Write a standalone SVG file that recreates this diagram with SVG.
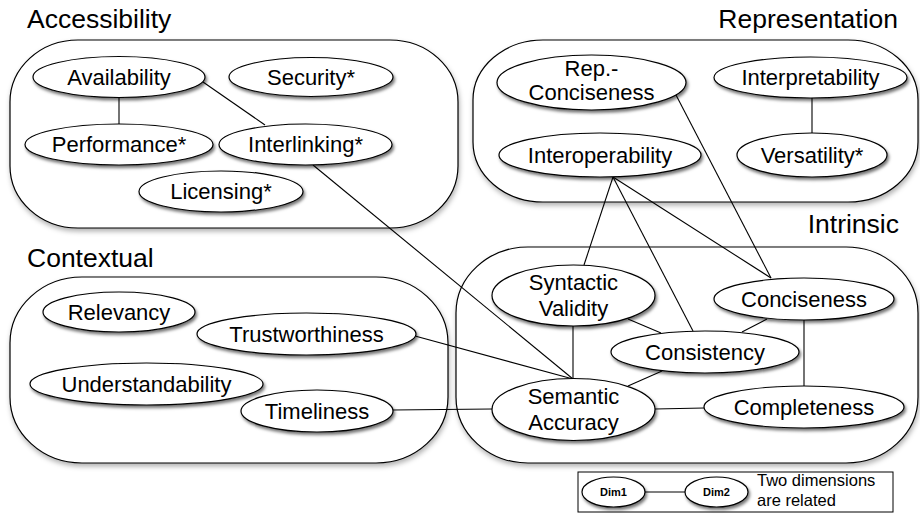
<svg xmlns="http://www.w3.org/2000/svg" width="920" height="523" viewBox="0 0 920 523">
<defs>
<filter id="sh" x="-20%" y="-20%" width="150%" height="160%">
<feDropShadow dx="1.5" dy="2.5" stdDeviation="1.6" flood-color="#000" flood-opacity="0.55"/>
</filter>
<filter id="shc" x="-10%" y="-10%" width="120%" height="125%">
<feDropShadow dx="1" dy="3" stdDeviation="2.5" flood-color="#000" flood-opacity="0.3"/>
</filter>
</defs>
<style>
.box{fill:#fff;stroke:#000;stroke-width:1.2}
.n{fill:#fff;stroke:#000;stroke-width:1.2}
.t{font-family:"Liberation Sans",Arial,sans-serif;font-size:22px;fill:#000;text-anchor:middle}
.h{font-family:"Liberation Sans",Arial,sans-serif;font-size:26.5px;fill:#000}
.hr{text-anchor:end}
.e{stroke:#000;stroke-width:1.1;fill:none}
.lg{font-family:"Liberation Sans",Arial,sans-serif;font-size:16.5px;fill:#000}
.d{font-family:"Liberation Sans",Arial,sans-serif;font-size:11px;font-weight:bold;fill:#000;text-anchor:middle}
</style>
<rect width="920" height="523" fill="#fff"/>

<g id="groups">
<g id="accessibility">
<rect class="box" x="10" y="40" width="448" height="188" rx="68" ry="62" filter="url(#shc)"/>
<text class="h" x="27" y="28">Accessibility</text>
</g>
<g id="representation">
<rect class="box" x="473" y="40" width="445" height="162" rx="70" ry="60" filter="url(#shc)"/>
<text class="h hr" x="898" y="28">Representation</text>
</g>
<g id="contextual">
<rect class="box" x="10" y="277" width="438" height="186" rx="72" ry="66" filter="url(#shc)"/>
<text class="h" x="27" y="267">Contextual</text>
</g>
<g id="intrinsic">
<rect class="box" x="456" y="247" width="462" height="216" rx="72" ry="66" filter="url(#shc)"/>
<text class="h hr" x="899" y="233">Intrinsic</text>
</g>
</g>

<g id="connectors">
<line class="e" x1="119" y1="97" x2="119" y2="124"/>
<line class="e" x1="203" y1="82" x2="265" y2="125"/>
<line class="e" x1="313" y1="165" x2="573" y2="379"/>
<line class="e" x1="812" y1="97" x2="812" y2="133"/>
<line class="e" x1="676" y1="95" x2="771" y2="278"/>
<line class="e" x1="613" y1="177" x2="584" y2="265"/>
<line class="e" x1="613" y1="177" x2="693" y2="331"/>
<line class="e" x1="613" y1="177" x2="771" y2="278"/>
<line class="e" x1="415" y1="336" x2="573" y2="379"/>
<line class="e" x1="393" y1="410" x2="492" y2="409"/>
<line class="e" x1="573" y1="325" x2="573" y2="379"/>
<line class="e" x1="628" y1="319" x2="661" y2="333"/>
<line class="e" x1="767" y1="319" x2="742" y2="332"/>
<line class="e" x1="804" y1="320" x2="804" y2="386"/>
<line class="e" x1="662" y1="371" x2="628" y2="386"/>
<line class="e" x1="655" y1="409" x2="704" y2="408"/>
</g>

<g id="availability"><ellipse class="n" cx="119" cy="77" rx="86" ry="20.5" filter="url(#sh)"/><text class="t" x="119" y="84.5">Availability</text></g>
<g id="security"><ellipse class="n" cx="311" cy="77" rx="82" ry="19.5" filter="url(#sh)"/><text class="t" x="311" y="84.5">Security*</text></g>
<g id="performance"><ellipse class="n" cx="119" cy="144.5" rx="94" ry="20.5" filter="url(#sh)"/><text class="t" x="119" y="152">Performance*</text></g>
<g id="interlinking"><ellipse class="n" cx="305.5" cy="144.5" rx="86.5" ry="20.5" filter="url(#sh)"/><text class="t" x="305.5" y="152">Interlinking*</text></g>
<g id="licensing"><ellipse class="n" cx="221" cy="191.5" rx="82" ry="20.5" filter="url(#sh)"/><text class="t" x="221" y="199">Licensing*</text></g>

<g id="rep-conciseness"><ellipse class="n" cx="591.5" cy="82.5" rx="94.5" ry="27.5" filter="url(#sh)"/><text class="t" x="591.5" y="76">Rep.-</text><text class="t" x="591.5" y="100">Conciseness</text></g>
<g id="interpretability"><ellipse class="n" cx="810.5" cy="77.5" rx="96.5" ry="20.5" filter="url(#sh)"/><text class="t" x="810.5" y="85">Interpretability</text></g>
<g id="interoperability"><ellipse class="n" cx="600" cy="155" rx="101" ry="22" filter="url(#sh)"/><text class="t" x="600" y="162.5">Interoperability</text></g>
<g id="versatility"><ellipse class="n" cx="812" cy="155" rx="75" ry="22" filter="url(#sh)"/><text class="t" x="812" y="162.5">Versatility*</text></g>

<g id="relevancy"><ellipse class="n" cx="119" cy="312" rx="76" ry="20" filter="url(#sh)"/><text class="t" x="119" y="319.5">Relevancy</text></g>
<g id="trustworthiness"><ellipse class="n" cx="306.5" cy="334" rx="109.5" ry="21" filter="url(#sh)"/><text class="t" x="306.5" y="341.5">Trustworthiness</text></g>
<g id="understandability"><ellipse class="n" cx="146.5" cy="384" rx="116.5" ry="21" filter="url(#sh)"/><text class="t" x="146.5" y="391.5">Understandability</text></g>
<g id="timeliness"><ellipse class="n" cx="317" cy="411" rx="76" ry="21" filter="url(#sh)"/><text class="t" x="317" y="418.5">Timeliness</text></g>

<g id="syntactic-validity"><ellipse class="n" cx="573.5" cy="295.5" rx="81.5" ry="30.5" filter="url(#sh)"/><text class="t" x="573.5" y="290">Syntactic</text><text class="t" x="573.5" y="316">Validity</text></g>
<g id="conciseness"><ellipse class="n" cx="804" cy="299" rx="90" ry="21" filter="url(#sh)"/><text class="t" x="804" y="306.5">Conciseness</text></g>
<g id="consistency"><ellipse class="n" cx="705" cy="352" rx="94" ry="21" filter="url(#sh)"/><text class="t" x="705" y="359.5">Consistency</text></g>
<g id="semantic-accuracy"><ellipse class="n" cx="573.5" cy="409.5" rx="81.5" ry="31" filter="url(#sh)"/><text class="t" x="573.5" y="404">Semantic</text><text class="t" x="573.5" y="430">Accuracy</text></g>
<g id="completeness"><ellipse class="n" cx="804" cy="407" rx="100" ry="21" filter="url(#sh)"/><text class="t" x="804" y="414.5">Completeness</text></g>

<g id="legend">
<rect x="578" y="472" width="315" height="40" fill="#fff" stroke="#000" stroke-width="1"/>
<line class="e" x1="644" y1="492" x2="686" y2="492"/>
<g id="dim1"><ellipse class="n" cx="613.5" cy="492" rx="31.5" ry="15" filter="url(#sh)"/><text class="d" x="613.5" y="496">Dim1</text></g>
<g id="dim2"><ellipse class="n" cx="716.5" cy="492" rx="31.5" ry="15" filter="url(#sh)"/><text class="d" x="716.5" y="496">Dim2</text></g>
<text class="lg" x="757" y="486">Two dimensions</text>
<text class="lg" x="757" y="505.5">are related</text>
</g>
</svg>
